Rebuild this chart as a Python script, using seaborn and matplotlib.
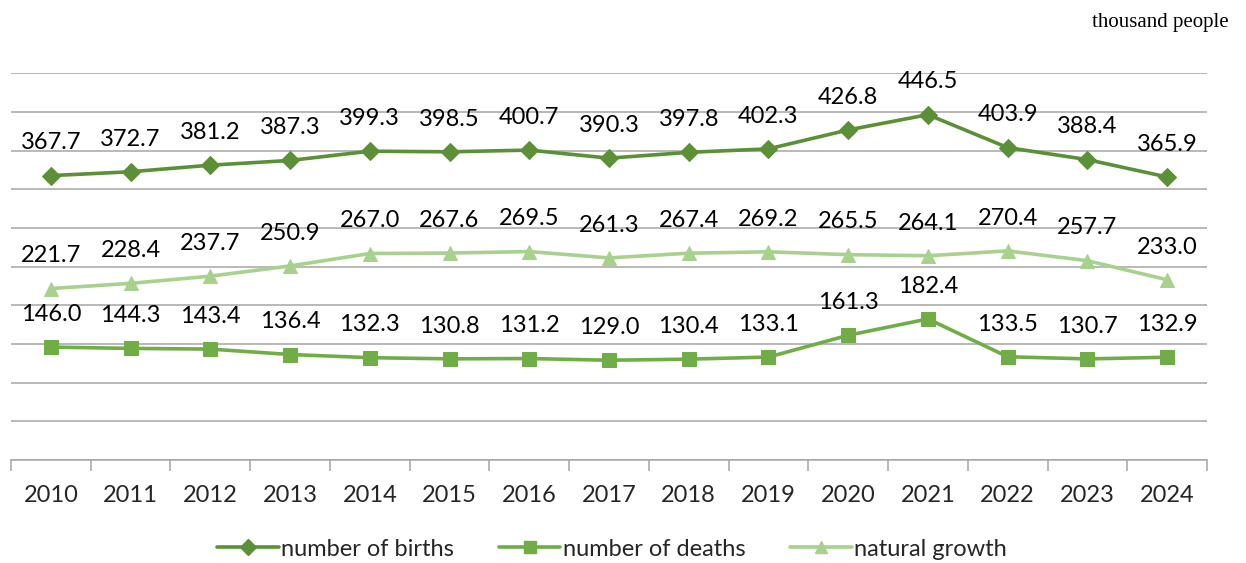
import matplotlib
matplotlib.use("Agg")
import matplotlib.pyplot as plt
import seaborn as sns
import pandas as pd
import numpy as np

years = ["2010", "2011", "2012", "2013", "2014", "2015", "2016", "2017",
         "2018", "2019", "2020", "2021", "2022", "2023", "2024"]
births = [367.7, 372.7, 381.2, 387.3, 399.3, 398.5, 400.7, 390.3, 397.8,
          402.3, 426.8, 446.5, 403.9, 388.4, 365.9]
deaths = [146.0, 144.3, 143.4, 136.4, 132.3, 130.8, 131.2, 129.0, 130.4,
          133.1, 161.3, 182.4, 133.5, 130.7, 132.9]
growth = [221.7, 228.4, 237.7, 250.9, 267.0, 267.6, 269.5, 261.3, 267.4,
          269.2, 265.5, 264.1, 270.4, 257.7, 233.0]
series_names = ["number of births", "number of deaths", "natural growth"]
unit_label = "thousand people"

sns.set_theme(style="white")
plt.rcParams['font.family'] = ['Lato', 'DejaVu Sans']

fig = plt.figure(figsize=(12.46, 5.63), dpi=100)
ax = fig.add_axes([11/1246, 103/563, (1207-11)/1246, (460-73.3)/563])

pos = np.arange(len(years))
styles = [
    (births, "#5B9036", "D", 9),
    (deaths, "#70AD47", "s", 10),
    (growth, "#A9D18E", "^", 10),
]
handles = []
for (vals, col, mk, ms), name in zip(styles, series_names):
    df = pd.DataFrame({"x": pos, "y": vals})
    sns.lineplot(data=df, x="x", y="y", ax=ax, color=col, linewidth=2.6,
                 marker=mk, markersize=ms, markeredgecolor=col,
                 markerfacecolor=col, label=name, legend=False)
    for xi, yi in zip(pos, vals):
        ax.annotate(f"{yi:.1f}", (xi, yi), xytext=(0, 16),
                    textcoords="offset points", ha="center", va="bottom",
                    fontsize=17, color="black")
    handles.append(plt.Line2D([], [], color=col, linewidth=2.6, marker=mk,
                              markersize=ms - 1, markerfacecolor=col,
                              markeredgecolor=col))

ax.set_ylim(0, 500)
ax.set_xlim(-0.5, len(years) - 0.5)
ax.set_yticks(np.arange(0, 501, 50))
ax.yaxis.grid(True, color="#A6A6A6", linewidth=1.1)
ax.set_axisbelow(True)
ax.tick_params(axis="y", left=False, labelleft=False)
ax.set_xticks(pos)
ax.set_xticklabels(years, fontsize=17)
ax.set_xticks(np.arange(-0.5, len(years), 1), minor=True)
ax.tick_params(axis="x", which="major", length=0, pad=18)
ax.tick_params(axis="x", which="minor", length=8, color="#A6A6A6",
               width=1.1, bottom=True, direction="out")
for s in ["top", "right", "left"]:
    ax.spines[s].set_visible(False)
ax.spines["bottom"].set_color("#A6A6A6")
ax.spines["bottom"].set_linewidth(1.1)
ax.set_xlabel("")
ax.set_ylabel("")

fig.text(1229/1246, 1 - 23/563, unit_label, ha="right", va="center",
         fontsize=15, family="Liberation Serif", color="black")

fig.legend(handles, series_names, loc="center", ncol=3,
           bbox_to_anchor=(612/1246, 1 - 549/563), frameon=False,
           fontsize=17, handlelength=2.6, columnspacing=1.9,
           handletextpad=0.1)

fig.savefig("out.png", dpi=100)
